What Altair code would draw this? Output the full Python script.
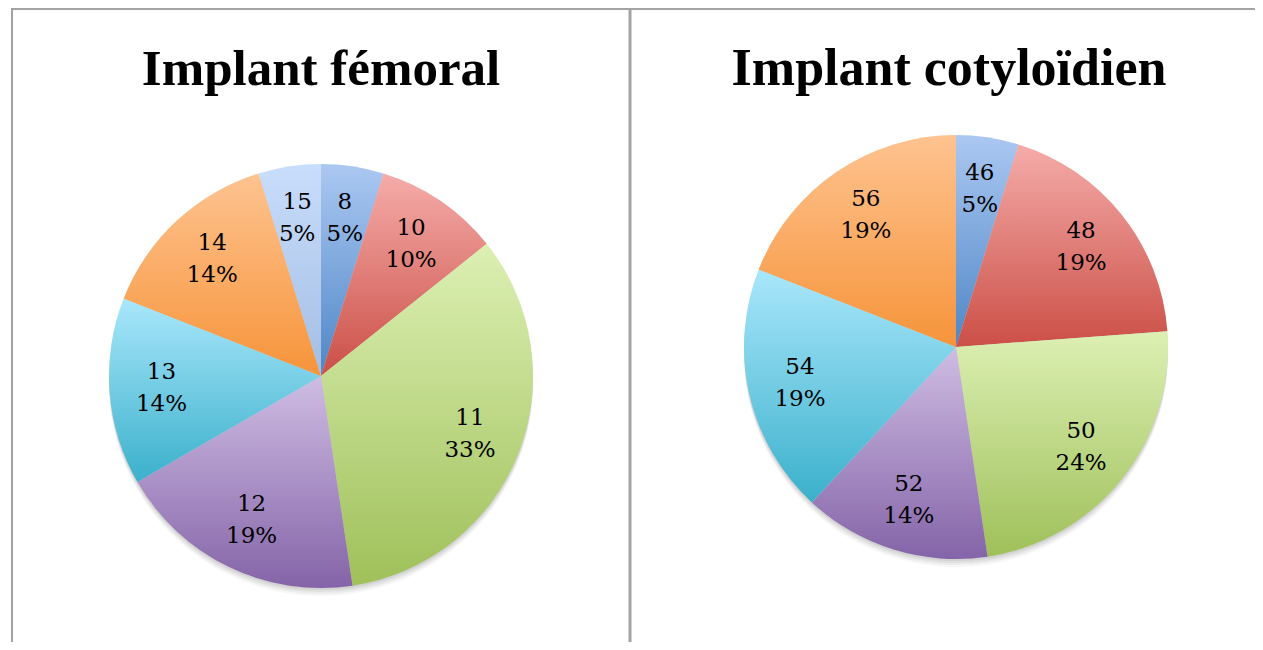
import altair as alt
import pandas as pd

# ---- data ----
fem_categories = ["8", "10", "11", "12", "13", "14", "15"]
fem_counts = [1, 2, 7, 4, 3, 3, 1]
cot_categories = ["46", "48", "50", "52", "54", "56"]
cot_counts = [1, 4, 5, 3, 4, 4]
titles = ["Implant fémoral", "Implant cotyloïdien"]

# ---- styles ----
light = ["#abc8f2", "#f5aca9", "#dcf0b3", "#cfbde3", "#a9e7fb", "#fec390", "#c9ddfc"]
dark = ["#4f86c6", "#cb4f47", "#9fc05a", "#8464a8", "#3bb0cb", "#f6943a", "#a3bee3"]


def grad(i):
    return {
        "gradient": "linear", "x1": 0, "y1": 0, "x2": 0, "y2": 1,
        "stops": [{"offset": 0, "color": light[i]}, {"offset": 1, "color": dark[i]}],
    }


rows = []
for panel, cats, cnts in (("fem", fem_categories, fem_counts), ("cot", cot_categories, cot_counts)):
    for i, (c, n) in enumerate(zip(cats, cnts)):
        rows.append({"panel": panel, "cat": c, "count": n, "slot": i})
df = pd.DataFrame(rows)

W, H = 1247, 634
R = 212
theta_scale = alt.Scale(domain=[0, 1])
color_enc = alt.value(grad(0), condition=[{"test": f"datum.slot == {i}", "value": grad(i)} for i in range(1, 7)])


def pie(panel, cx, cy):
    base = (
        alt.Chart(df)
        .transform_filter(alt.datum.panel == panel)
        .transform_joinaggregate(total="sum(count)")
        .transform_window(cum="sum(count)", sort=[alt.SortField("slot")])
        .transform_calculate(
            start="(datum.cum - datum.count) / datum.total",
            end="datum.cum / datum.total",
            mid="(datum.cum - datum.count / 2) / datum.total",
            label="datum.cat + '\\n' + format(datum.count / datum.total, '.0%')",
        )
    )
    layers = []
    for off, op in ((2, 0.10), (4, 0.09), (6, 0.07), (8, 0.05)):
        layers.append(
            base.mark_arc(outerRadius=R, color="#606060", opacity=op).encode(
                theta=alt.Theta("start:Q", scale=theta_scale), theta2="end:Q",
                x=alt.value(cx), y=alt.value(cy + off),
            )
        )
    layers.append(
        base.mark_arc(outerRadius=R).encode(
            theta=alt.Theta("start:Q", scale=theta_scale), theta2="end:Q",
            x=alt.value(cx), y=alt.value(cy), color=color_enc,
        )
    )
    layers.append(
        base.mark_text(radius=160, font="DejaVu Serif", fontSize=23, lineBreak="\n",
                       lineHeight=32, align="center", baseline="middle", dy=-16,
                       color="#000000").encode(
            theta=alt.Theta("mid:Q", scale=theta_scale),
            x=alt.value(cx), y=alt.value(cy), text="label:N",
        )
    )
    return layers


one = pd.DataFrame({"k": [0]})
rule_color = "#a3a3a3"
borders = [
    alt.Chart(one).mark_rule(color=rule_color, strokeWidth=2).encode(x=alt.value(3), x2=alt.value(W), y=alt.value(1)),
    alt.Chart(one).mark_rule(color=rule_color, strokeWidth=2).encode(x=alt.value(4), y=alt.value(0), y2=alt.value(H)),
    alt.Chart(one).mark_rule(color=rule_color, strokeWidth=3).encode(x=alt.value(622), y=alt.value(0), y2=alt.value(H)),
]

title_df = pd.DataFrame({"title": titles, "tx": [313, 941], "fs": [51, 52]})
title_layers = [
    alt.Chart(title_df.iloc[[i]]).mark_text(font="Liberation Serif", fontSize=int(title_df.fs[i]), fontWeight="bold",
                                            align="center", baseline="alphabetic", color="#000000").encode(
        x=alt.value(int(title_df.tx[i])), y=alt.value(77), text="title:N")
    for i in range(2)
]

chart = alt.layer(*borders, *pie("fem", 313, 368), *pie("cot", 948, 339), *title_layers).properties(
    width=W, height=H, padding=0, autosize=alt.AutoSizeParams(type="none")
).configure_view(stroke=None)

chart.save("out.html", embed_options={"renderer": "svg", "actions": False})
